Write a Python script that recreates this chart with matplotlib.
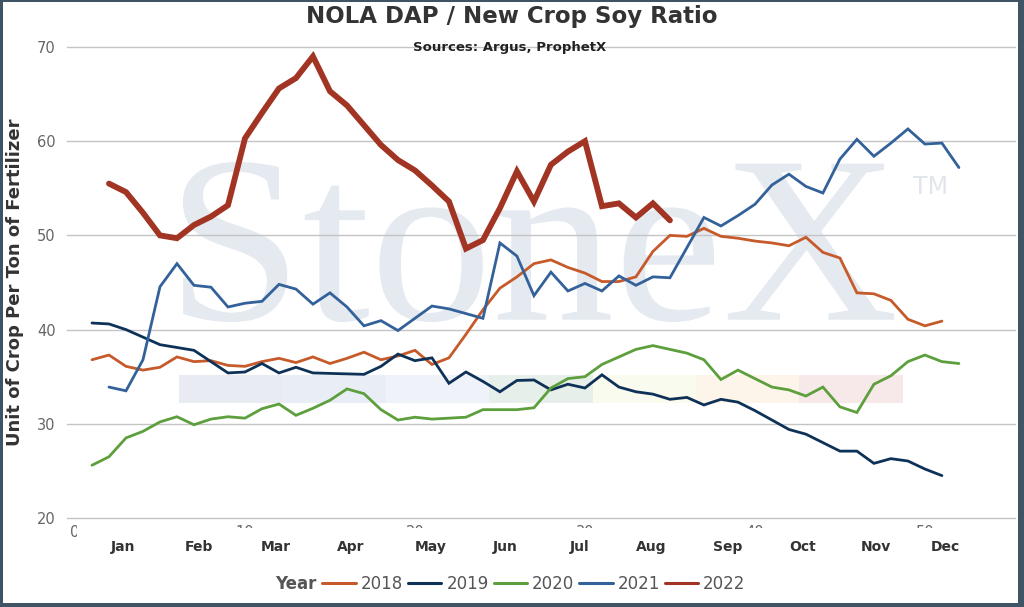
import matplotlib
matplotlib.use("Agg")
import matplotlib.pyplot as plt
from matplotlib.patches import PathPatch, Rectangle
from matplotlib.textpath import TextPath
from matplotlib.font_manager import FontProperties
from matplotlib.transforms import Affine2D

# weekly ratio
weeks_2018 = list(range(1, 52))
ratio_2018 = [36.8, 37.3, 36.1, 35.7, 36.0, 37.1, 36.6, 36.7, 36.2, 36.1,
              36.6, 36.95, 36.5, 37.1, 36.4, 36.95, 37.6, 36.8, 37.2, 37.8,
              36.3, 37.0, 39.5, 42.1, 44.4, 45.6, 47.0, 47.4, 46.6, 46.0,
              45.1, 45.1, 45.6, 48.3, 50.0, 49.9, 50.75, 49.9, 49.7, 49.4,
              49.2, 48.9, 49.8, 48.2, 47.6, 43.9, 43.8, 43.1, 41.1, 40.4, 40.9]

weeks_2019 = list(range(1, 52))
ratio_2019 = [40.7, 40.6, 40.0, 39.2, 38.4, 38.1, 37.8, 36.6, 35.4, 35.5,
              36.4, 35.4, 36.0, 35.4, 35.35, 35.3, 35.25, 36.1, 37.4, 36.7,
              37.0, 34.3, 35.5, 34.5, 33.4, 34.6, 34.65, 33.6, 34.2, 33.8,
              35.2, 33.9, 33.4, 33.15, 32.6, 32.8, 32.0, 32.6, 32.3, 31.4,
              30.4, 29.4, 28.9, 28.0, 27.1, 27.1, 25.8, 26.3, 26.05, 25.2, 24.5]

weeks_2020 = list(range(1, 53))
ratio_2020 = [25.6, 26.5, 28.5, 29.2, 30.2, 30.75, 29.9, 30.5, 30.75, 30.6,
              31.6, 32.1, 30.9, 31.65, 32.5, 33.7, 33.2, 31.5, 30.4, 30.7,
              30.5, 30.6, 30.7, 31.5, 31.5, 31.5, 31.7, 33.8, 34.8, 35.0,
              36.3, 37.1, 37.9, 38.3, 37.9, 37.5, 36.8, 34.7, 35.7, 34.8,
              33.9, 33.6, 32.95, 33.9, 31.8, 31.2, 34.2, 35.1, 36.6, 37.3,
              36.6, 36.4]

weeks_2021 = list(range(2, 53))
ratio_2021 = [33.9, 33.5, 36.8, 44.55, 47.0, 44.7, 44.5, 42.4, 42.8, 43.0,
              44.8, 44.3, 42.7, 43.9, 42.4, 40.4, 40.95, 39.9, 41.2, 42.5,
              42.2, 41.7, 41.2, 49.2, 47.8, 43.6, 46.1, 44.1, 44.9, 44.1,
              45.7, 44.7, 45.6, 45.5, 48.7, 51.9, 51.0, 52.1, 53.3, 55.35,
              56.5, 55.2, 54.5, 58.1, 60.2, 58.4, 59.8, 61.3, 59.7, 59.8, 57.2]

weeks_2022 = list(range(2, 36))
ratio_2022 = [55.5, 54.6, 52.4, 50.0, 49.7, 51.1, 52.0, 53.2, 60.3, 63.0,
              65.6, 66.7, 69.0, 65.3, 63.8, 61.7, 59.6, 58.0, 56.9, 55.3,
              53.6, 48.6, 49.5, 52.9, 56.8, 53.6, 57.5, 58.9, 60.0, 53.1,
              53.4, 51.9, 53.4, 51.6]

months = ["Jan", "Feb", "Mar", "Apr", "May", "Jun",
          "Jul", "Aug", "Sep", "Oct", "Nov", "Dec"]
month_pos = [2.8, 7.3, 11.8, 16.2, 20.9, 25.3, 29.7, 33.9, 38.4, 42.8, 47.1, 51.2]
week_ticks = [0, 10, 20, 30, 40, 50]

series = [
    ("2018", weeks_2018, ratio_2018, "#c65a2a", 2.0),
    ("2019", weeks_2019, ratio_2019, "#0e3157", 2.0),
    ("2020", weeks_2020, ratio_2020, "#5c9f3c", 2.0),
    ("2021", weeks_2021, ratio_2021, "#33619a", 2.0),
    ("2022", weeks_2022, ratio_2022, "#a13423", 4.2),
]
band_colors = ["#e8ebf1", "#e9eef6", "#eff3f9", "#e7efea",
               "#fafbef", "#fdf5ea", "#f7e9ea"]

W, H = 1024, 607
fig = plt.figure(figsize=(W / 100, H / 100), dpi=100)
ax = fig.add_axes([67 / W, 1 - 518 / H, (1015 - 67) / W, (518 - 47) / H])
ax.set_zorder(7)  # month labels sit above the mask over the week numbers

ax.set_xlim(-0.47, 55.3)
ax.set_ylim(20, 70)

# watermark
tp = TextPath((0, 0), "StoneX", size=1, prop=FontProperties(family="Liberation Serif"))
bb = tp.get_extents()
x0, x1, y0, y1 = 6.35, 48.2, 40.8, 57.8
tr = (Affine2D().translate(-bb.x0, -bb.y0)
      .scale((x1 - x0) / bb.width, (y1 - y0) / bb.height)
      .translate(x0, y0))
ax.add_patch(PathPatch(tr.transform_path(tp), fc="#e5e9f0", ec="none", zorder=0.2))
ax.text(49.3, 54.4, "TM", fontsize=17, color="#e1e5ec", zorder=0.2)

# coloured band
band_start, band_w = 6.14, 6.08
for i, c in enumerate(band_colors):
    ax.add_patch(Rectangle((band_start + i * band_w, 32.18), band_w, 3.0,
                           fc=c, ec="none", zorder=0.4))

for label, wk, vals, col, lw in series:
    ax.plot(wk, vals, color=col, lw=lw, label=label, solid_joinstyle="miter",
            solid_capstyle="round", zorder=3)

ax.set_yticks([20, 30, 40, 50, 60, 70])
ax.grid(axis="y", color="#c4c4c4", lw=1.0)
for gl in ax.get_ygridlines():
    gl.set_clip_on(False)
ax.set_axisbelow(True)
ax.tick_params(axis="y", length=0, pad=8, labelsize=10.5, labelcolor="#666666")
ax.set_xticks(month_pos, months)
ax.tick_params(axis="x", length=0, pad=16, labelsize=10, labelcolor="#333333")
for t in ax.get_xticklabels():
    t.set_fontweight("bold")
for s in ax.spines.values():
    s.set_visible(False)

# week numbers, mostly hidden behind the month labels
x_zero = ax.transData.transform((0, 20))[0]
for w in week_ticks:
    xd = ax.transData.transform((w, 20))[0]
    fig.text(xd / W, 1 - 525 / H, str(w), ha="center", va="top",
             fontsize=10.5, color="#666666", zorder=3)
fig.patches.append(Rectangle(((x_zero + 2.5) / W, 1 - 560 / H), (1020 - x_zero) / W, 32.5 / H,
                             transform=fig.transFigure, fc="white", ec="none", zorder=6))
fig.patches.append(Rectangle(((x_zero + 2.5) / W, 1 - 545 / H), 12 / W, 25 / H,
                             transform=fig.transFigure, fc="white", ec="none", zorder=6))

fig.text(0.5, 1 - 17 / H, "NOLA DAP / New Crop Soy Ratio", ha="center", va="center",
         fontsize=16.5, fontweight="bold", color="#333333")
fig.text(510 / W, 1 - 47 / H, "Sources: Argus, ProphetX", ha="center", va="center",
         fontsize=9.5, fontweight="bold", color="#222222", zorder=8)
fig.text(15 / W, 1 - 282 / H, "Unit of Crop Per Ton of Fertilizer", rotation=90,
         ha="center", va="center", fontsize=13, fontweight="bold", color="#333333")

fig.text(275 / W, 1 - 584 / H, "Year", ha="left", va="center",
         fontsize=12, fontweight="bold", color="#555555")
leg = fig.legend(loc="center", bbox_to_anchor=(534 / W, 1 - 584 / H), ncol=5,
                 frameon=False, fontsize=12, handlelength=2.0, handletextpad=0.3,
                 columnspacing=0.3, borderpad=0, borderaxespad=0)
for t in leg.get_texts():
    t.set_color("#555555")
for h in leg.get_lines():
    h.set_linewidth(2.2)

# dark frame around the figure
frame = "#3f5566"
for r in [(0, 0, 3 / W, 1), (1 - 6 / W, 0, 6 / W, 1),
          (0, 1 - 2 / H, 1, 2 / H), (0, 0, 1, 4 / H)]:
    fig.patches.append(Rectangle(r[:2], r[2], r[3], transform=fig.transFigure,
                                 fc=frame, ec="none", zorder=9))

fig.savefig("out.png", dpi=100)
